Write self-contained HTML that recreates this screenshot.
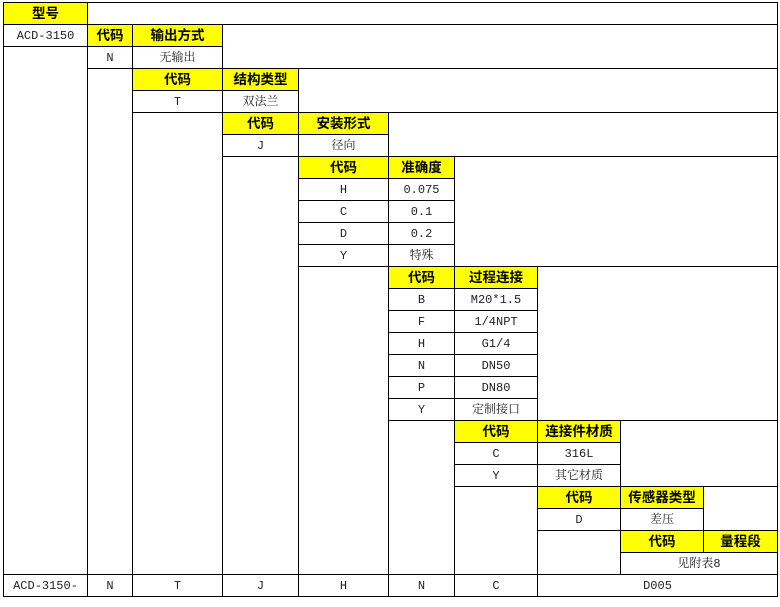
<!DOCTYPE html>
<html><head><meta charset="utf-8"><style>
html,body{margin:0;padding:0;background:#fff;width:780px;height:607px;overflow:hidden}
table{position:absolute;left:3px;top:2px;border-collapse:collapse;table-layout:fixed;width:774px}
td{border:1.5px solid #000;padding:0;height:20px;text-align:center;vertical-align:middle;font-family:"Liberation Mono","Noto Serif CJK SC",serif;font-size:12px;color:#222;line-height:20px;overflow:hidden;white-space:nowrap}
td.y{background:#ffff00;font-family:"Liberation Sans","Noto Sans CJK SC",sans-serif;font-weight:bold;color:#000;font-size:13.5px}
tr{height:22px}
</style></head><body>
<table>
<colgroup><col style="width:84px"><col style="width:45px"><col style="width:90px"><col style="width:76px"><col style="width:90px"><col style="width:66px"><col style="width:83px"><col style="width:83px"><col style="width:83px"><col style="width:74px"></colgroup>
<tr><td class="y">型号</td><td colspan="9"></td></tr>
<tr><td>ACD-3150</td><td class="y">代码</td><td class="y">输出方式</td><td colspan="7" rowspan="2"></td></tr>
<tr><td rowspan="24"></td><td>N</td><td>无输出</td></tr>
<tr><td rowspan="23"></td><td class="y">代码</td><td class="y">结构类型</td><td colspan="6" rowspan="2"></td></tr>
<tr><td>T</td><td>双法兰</td></tr>
<tr><td rowspan="21"></td><td class="y">代码</td><td class="y">安装形式</td><td colspan="5" rowspan="2"></td></tr>
<tr><td>J</td><td>径向</td></tr>
<tr><td rowspan="19"></td><td class="y">代码</td><td class="y">准确度</td><td colspan="4" rowspan="5"></td></tr>
<tr><td>H</td><td>0.075</td></tr>
<tr><td>C</td><td>0.1</td></tr>
<tr><td>D</td><td>0.2</td></tr>
<tr><td>Y</td><td>特殊</td></tr>
<tr><td rowspan="14"></td><td class="y">代码</td><td class="y">过程连接</td><td colspan="3" rowspan="7"></td></tr>
<tr><td>B</td><td>M20*1.5</td></tr>
<tr><td>F</td><td>1/4NPT</td></tr>
<tr><td>H</td><td>G1/4</td></tr>
<tr><td>N</td><td>DN50</td></tr>
<tr><td>P</td><td>DN80</td></tr>
<tr><td>Y</td><td>定制接口</td></tr>
<tr><td rowspan="7"></td><td class="y">代码</td><td class="y">连接件材质</td><td colspan="2" rowspan="3"></td></tr>
<tr><td>C</td><td>316L</td></tr>
<tr><td>Y</td><td>其它材质</td></tr>
<tr><td rowspan="4"></td><td class="y">代码</td><td class="y">传感器类型</td><td rowspan="2"></td></tr>
<tr><td>D</td><td>差压</td></tr>
<tr><td rowspan="2"></td><td class="y">代码</td><td class="y">量程段</td></tr>
<tr><td colspan="2">见附表8</td></tr>
<tr><td>ACD-3150-</td><td>N</td><td>T</td><td>J</td><td>H</td><td>N</td><td>C</td><td colspan="3">D005</td></tr>
</table>
</body></html>
